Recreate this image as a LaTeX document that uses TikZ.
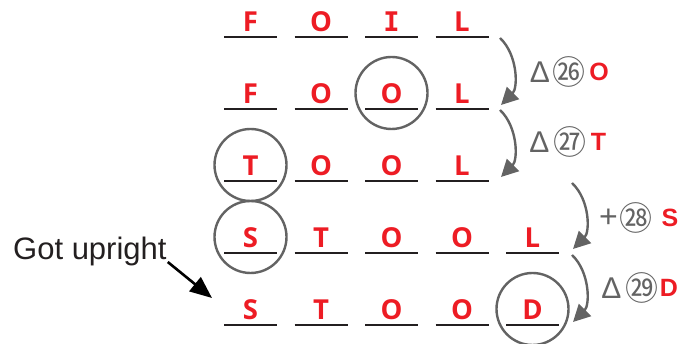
\documentclass[tikz,border=0pt]{standalone}
\usepackage{fontspec}
\setmainfont{Liberation Sans}
\newfontfamily\monof{DejaVu Sans Mono}
\newfontfamily\lettf{Open Sans}
\newfontfamily\cjk{Noto Sans CJK SC}
\usetikzlibrary{arrows.meta}
\definecolor{myred}{HTML}{ED1C24}
\definecolor{ink}{HTML}{231F20}
\definecolor{mygray}{HTML}{636363}
\tikzset{
  letter/.style={font=\lettf\bfseries\fontsize{27.5}{27.5}\selectfont, text=myred, inner sep=0pt, anchor=base},
  monoletter/.style={letter, font=\monof\bfseries\fontsize{27}{27}\selectfont},
  blank/.style={draw=ink, line width=2.6pt},
  ring/.style={circle, draw=mygray, line width=2.4pt, minimum size=72pt, inner sep=0pt},
  curved/.style={draw=mygray, line width=2.4pt, -{Triangle[length=17pt,width=17pt]}},
  op/.style={font=\fontsize{30}{30}\selectfont, text=mygray, inner sep=0pt},
  num/.style={font=\cjk\fontsize{33}{33}\selectfont, text=mygray, inner sep=0pt},
  rl/.style={font=\bfseries\fontsize{25}{25}\selectfont, text=myred, inner sep=0pt},
  note/.style={font=\fontsize{31}{31}\selectfont, text=ink, inner sep=0pt, anchor=base west},
  pointer/.style={draw=black, line width=2.6pt, -{Triangle[length=22pt,width=18pt]}}
}
\newcommand\slot[5][letter]{%
  \node[#1] (#2) at (#3,#4-5) {#5};
  \draw[blank] (#3-26.5,#4) -- (#3+26.5,#4);
}
\begin{document}
\begin{tikzpicture}[x=1pt,y=-1pt]
\useasboundingbox (0,0) rectangle (681,344);
% row 1
\slot{a1}{250.5}{37}{F}
\slot{a2}{321}{37}{O}
\slot[monoletter]{a3}{391.5}{37}{I}
\slot{a4}{462}{37}{L}
% row 2
\slot{b1}{250.5}{109}{F}
\slot{b2}{321}{109}{O}
\slot{b3}{391.5}{109}{O}
\slot{b4}{462}{109}{L}
% row 3
\slot{c1}{250.5}{181}{T}
\slot{c2}{321}{181}{O}
\slot{c3}{391.5}{181}{O}
\slot{c4}{462}{181}{L}
% row 4
\slot{d1}{250.5}{253}{S}
\slot{d2}{321}{253}{T}
\slot{d3}{391.5}{253}{O}
\slot{d4}{462}{253}{O}
\slot{d5}{532.5}{253}{L}
% row 5
\slot{e1}{250.5}{325}{S}
\slot{e2}{321}{325}{T}
\slot{e3}{391.5}{325}{O}
\slot{e4}{462}{325}{O}
\slot{e5}{532.5}{325}{D}
% rings
\node[ring] (rb3) at (391.5,93) {};
\node[ring] (rc1) at (250.5,165) {};
\node[ring] (rd1) at (250.5,237) {};
\node[ring] (re5) at (532.5,309) {};
% arrow end points
\coordinate (p1) at (500,38);
\coordinate (q1) at (501,105);
\coordinate (p2) at (500,110);
\coordinate (q2) at (501,177);
\coordinate (p3) at (572,183);
\coordinate (q3) at (573,249);
\coordinate (p4) at (572,255);
\coordinate (q4) at (573,322);
\draw[curved] (p1) .. controls (518,55) and (518,88) .. (q1);
\draw[curved] (p2) .. controls (518,127) and (518,160) .. (q2);
\draw[curved] (p3) .. controls (590,200) and (590,232) .. (q3);
\draw[curved] (p4) .. controls (590,272) and (590,305) .. (q4);
% labels
\node[op] (o1) at (540,72) {Δ};
\node[num] (n1) at (569,72) {㉖};
\node[rl] (l1) at (599,72) {O};
\node[op] (o2) at (539.5,142) {Δ};
\node[num] (n2) at (569.5,142) {㉗};
\node[rl] (l2) at (598.5,142) {T};
\node[op, font=\fontsize{32}{32}\selectfont] (o3) at (608.5,218) {+};
\node[num] (n3) at (636,218) {㉘};
\node[rl] (l3) at (670,218) {S};
\node[op] (o4) at (611.5,288) {Δ};
\node[num] (n4) at (642,288) {㉙};
\node[rl] (l4) at (669,288) {D};
% note
\node[note] (got) at (13,260) {Got upright};
\coordinate (gt) at (212,298);
\draw[pointer] (got.base east) ++(1,2) coordinate (gs) (gs) -- (gt);
\end{tikzpicture}
\end{document}
